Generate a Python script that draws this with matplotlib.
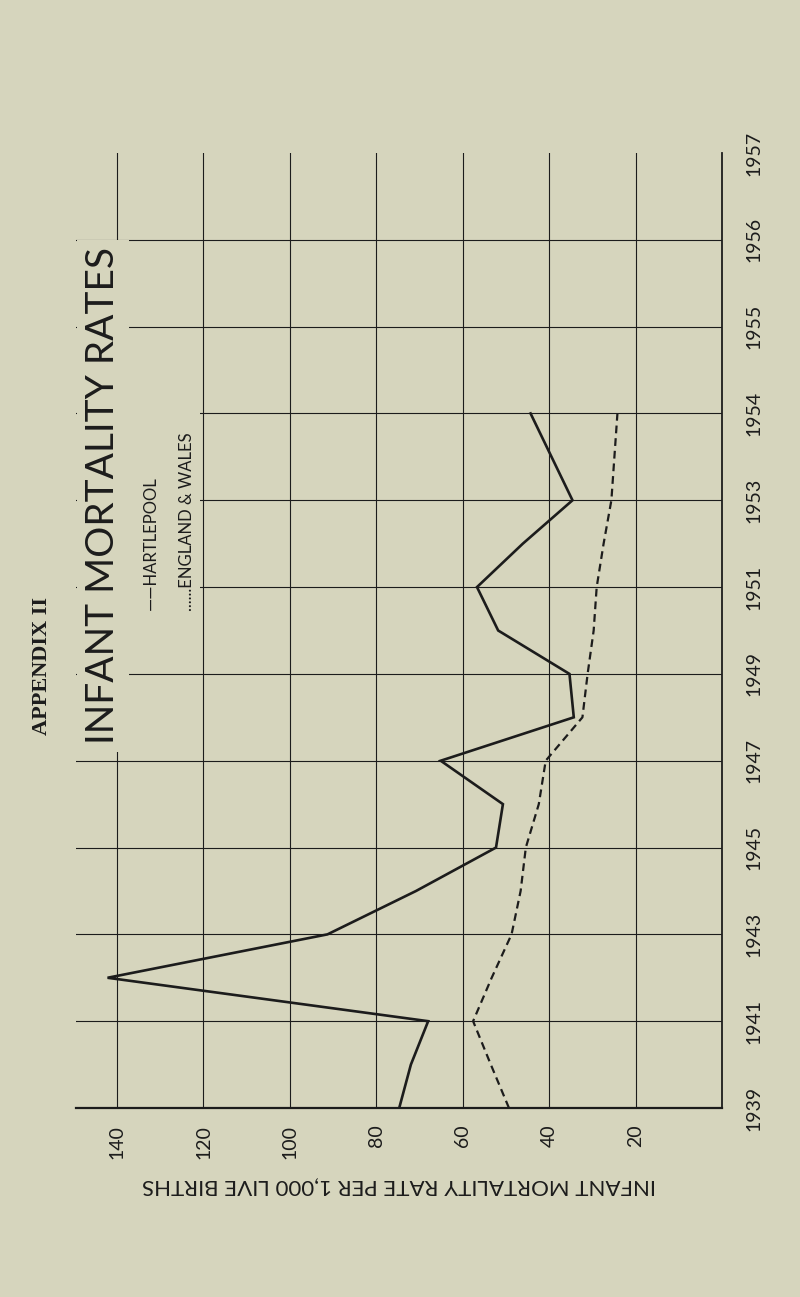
import matplotlib
matplotlib.use("Agg")
from matplotlib import pyplot as plt
from matplotlib.patches import Rectangle

# years shown on the chart (two-year steps to 1953, then yearly)
tick_years = ['1939', '1941', '1943', '1945', '1947', '1949', '1951', '1953',
              '1954', '1955', '1956', '1957']
rate_ticks = [140, 120, 100, 80, 60, 40, 20]

years = [1939, 1940, 1941, 1942, 1943, 1944, 1945, 1946, 1947, 1948,
         1949, 1950, 1951, 1952, 1953, 1954]
hartlepool = [74.7, 72.0, 68.0, 142.2, 91.3, 70.8, 52.3, 50.7, 65.1, 34.3,
              35.3, 51.8, 56.7, 46.1, 34.6, 44.3]
eng_wales = [49.3, 53.5, 57.6, 53.3, 48.7, 46.6, 45.4, 42.4, 40.8, 32.3,
             31.1, 29.7, 29.0, 27.4, 25.6, 24.2]

paper = '#d6d5bd'
ink = '#1c1c1c'


def ypos(yr):
    # the year axis is squeezed: one cell = 2 years up to 1953, 1 year after
    if yr <= 1953:
        return (yr - 1939) / 2
    return 7 + (yr - 1953)


pos = [ypos(y) for y in years]

plt.rcParams['font.family'] = ['Lato', 'DejaVu Sans']

fig = plt.figure(figsize=(8, 12.97), dpi=100, facecolor=paper)
ax = fig.add_axes([76 / 800, 1 - 1108 / 1297, 646 / 800, 955 / 1297])
ax.set_facecolor(paper)

ax.set_xlim(149.5, 0)
ax.set_ylim(0, 11)

# grid
for r in rate_ticks:
    ax.plot([r, r], [0, 11], color=ink, lw=0.8, zorder=1)
for i in range(1, 11):
    ax.plot([149.5, 0], [i, i], color=ink, lw=0.8, zorder=1)

for s in ['top', 'left']:
    ax.spines[s].set_visible(False)
ax.spines['right'].set_linewidth(1.3)
ax.spines['bottom'].set_linewidth(1.6)
ax.spines['right'].set_color(ink)
ax.spines['bottom'].set_color(ink)

ax.plot(hartlepool, pos, color=ink, lw=1.9, zorder=4, solid_joinstyle='miter')
ax.plot(eng_wales, pos, color=ink, lw=1.6, ls=(0, (3.5, 2.2)), zorder=4)

ax.set_xticks(rate_ticks)
ax.set_xticklabels([str(r) for r in rate_ticks], rotation=90, fontsize=14,
                   color=ink)
ax.set_yticks(range(len(tick_years)))
ax.set_yticklabels(tick_years, rotation=90, fontsize=14, color=ink, va='center')
ax.yaxis.tick_right()
ax.tick_params(axis='both', length=0)
ax.tick_params(axis='x', pad=12)
ax.tick_params(axis='y', pad=17)

# title over the left column
ax.text(143.2, 7.05, 'INFANT MORTALITY RATES', rotation=90, fontsize=28,
        ha='center', va='center', color=ink, zorder=5,
        bbox=dict(boxstyle='square,pad=0.2', fc=paper, ec='none'))

# legend block
ax.add_patch(Rectangle((137.5, 5.35), -16.6, 3.3, fc=paper, ec='none', zorder=2))
ax.text(132.2, 5.74, '——HARTLEPOOL', rotation=90, fontsize=12,
        rotation_mode='anchor', ha='left', va='center', color=ink, zorder=5)
ax.text(123.9, 5.72, '......ENGLAND & WALES', rotation=90, fontsize=12,
        rotation_mode='anchor', ha='left', va='center', color=ink, zorder=5)

fig.text(42 / 800, 1 - 735 / 1297, 'APPENDIX II', rotation=90, fontsize=16,
         family=['Liberation Serif', 'DejaVu Serif'], weight='bold',
         rotation_mode='anchor', ha='left', va='center', color=ink)

fig.text(399 / 800, 1 - 1186 / 1297, 'INFANT MORTALITY RATE PER 1,000 LIVE BIRTHS',
         rotation=180, fontsize=16, ha='center', va='center', color=ink)

fig.savefig('out.png', dpi=100, facecolor=paper)
